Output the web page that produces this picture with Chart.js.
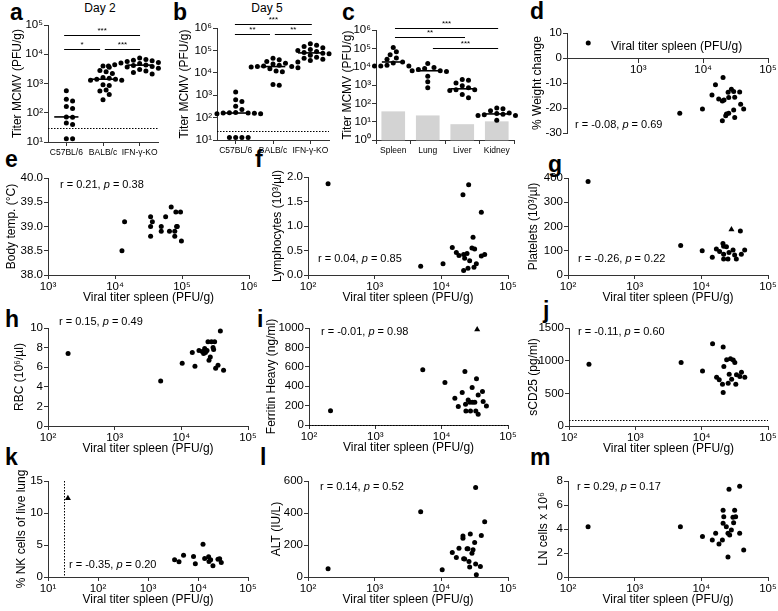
<!DOCTYPE html>
<html><head><meta charset="utf-8">
<script src="https://cdn.jsdelivr.net/npm/chart.js@4.4.1/dist/chart.umd.min.js"></script>
<style>
html,body{margin:0;padding:0;background:#fff;}
#wrap{position:relative;width:778px;height:611px;overflow:hidden;font-family:'Liberation Sans',Arial,Helvetica,sans-serif;color:#000;}
#wrap canvas{position:absolute;left:0;top:0;}
.L{position:absolute;font-weight:bold;font-size:23px;line-height:22px;}
.T{position:absolute;font-size:12px;line-height:14px;text-align:center;width:80px;}
</style></head>
<body><div id="wrap">
<div class="T" style="left:60px;top:1px">Day 2</div>
<div class="T" style="left:227px;top:1px">Day 5</div>
<div class="L" style="left:10px;top:1px">a</div>
<div class="L" style="left:173px;top:1px">b</div>
<div class="L" style="left:342px;top:1px">c</div>
<div class="L" style="left:530px;top:0px">d</div>
<div class="L" style="left:5px;top:148px">e</div>
<div class="L" style="left:255px;top:148px">f</div>
<div class="L" style="left:548px;top:153px">g</div>
<div class="L" style="left:5px;top:308px">h</div>
<div class="L" style="left:257px;top:308px">i</div>
<div class="L" style="left:543px;top:299px">j</div>
<div class="L" style="left:5px;top:446px">k</div>
<div class="L" style="left:260px;top:446px">l</div>
<div class="L" style="left:530px;top:446px">m</div>
</div>
<script>
// ---------- data ----------
const aCategories = ['C57BL/6', 'BALB/c', 'IFN-\u03b3-KO'];
const aC57  = [560, 290, 250, 165, 140, 72, 70, 45, 40, 13, 13];
const aBALB = [4000, 3600, 2800, 2500, 2200, 1600, 1500, 1400, 1400, 1300, 1300, 900, 850, 600, 550, 420, 280];
const aIFN  = [7500, 6600, 6200, 6000, 5700, 5200, 5000, 4800, 4600, 4400, 4300, 4200, 4100, 4000, 3800, 3700, 3500, 3300, 3000, 2700, 2400, 2100];
const aDetection = 30;

const bCategories = ['C57BL/6', 'BALB/c', 'IFN-\u03b3-KO'];
const bC57  = [1400, 620, 520, 320, 230, 170, 165, 160, 160, 155, 150, 150, 145, 13, 13, 13, 13];
const bBALB = [45000, 38000, 32000, 27000, 25000, 22000, 20000, 19000, 19000, 18000, 17000, 15000, 12000, 11000, 3000, 2800];
const bIFN  = [200000, 170000, 150000, 130000, 110000, 100000, 90000, 80000, 75000, 70000, 60000, 50000, 45000, 40000, 35000, 30000];
const bDetection = 24;

const cOrgans = ['Spleen', 'Lung', 'Liver', 'Kidney'];
const cSpleen = [110000, 65000, 45000, 30000, 25000, 18000, 16000, 12000, 11000, 11000, 11000];
const cLung   = [15000, 9000, 8000, 7000, 6000, 6000, 5500, 3000, 1500, 700];
const cLiver  = [2000, 1800, 1300, 900, 700, 550, 550, 500, 300, 200];
const cKidney = [55, 50, 40, 30, 28, 25, 24, 22, 22, 12];
const cDetection = [35, 21, 7, 10];

const dX = [170, 4370, 9770, 15500, 20300, 13700, 17400, 19800, 21000, 24300, 24800, 27300, 29600, 30700, 36600, 37900, 42200, 29600, 22900, 24800, 22300, 19800, 30700];
const dY = [6.0, -22.1, -20.4, -10.7, -7.8, -14.8, -16.4, -17.2, -16.8, -13.7, -15.8, -12.5, -13.4, -15.7, -13.6, -18.5, -20.4, -20.8, -22.4, -22.1, -23.1, -25.1, -23.8];

const eX = [12700, 13900, 34000, 34000, 34000, 36100, 49000, 49000, 57000, 69000, 65000, 78000, 78000, 81000, 83000, 85000, 95000, 98000];
const eY = [38.5, 39.1, 39.2, 39.0, 38.8, 39.1, 39.0, 38.9, 39.2, 39.4, 38.9, 38.9, 38.8, 39.3, 39.0, 39.0, 39.3, 38.7];

const fX = [200, 4900, 10600, 14600, 16800, 18400, 21100, 21600, 21600, 22400, 24300, 25100, 25700, 26600, 28800, 29900, 30900, 31600, 33500, 39800, 39800, 44700];
const fY = [1.86, 0.18, 0.23, 0.56, 0.46, 0.40, 1.64, 0.09, 0.42, 0.34, 0.44, 0.14, 1.84, 0.29, 0.55, 0.77, 0.16, 0.53, 0.23, 1.28, 0.39, 0.42];

const gX = [200, 4900, 10300, 14600, 16800, 18800, 21100, 21600, 21600, 23800, 21600, 25100, 26000, 29900, 31600, 33500, 38500, 39800, 44700];
const gY = [386, 122, 100, 73, 107, 97, 130, 119, 86, 116, 66, 66, 93, 103, 82, 66, 181, 86, 103];
const gTriX = [28300];
const gTriY = [188];

const hX = [200, 4900, 10300, 14600, 16000, 18400, 20600, 21600, 22400, 23000, 24300, 25100, 26000, 27200, 28300, 29900, 30500, 31600, 32700, 35500, 38500, 43000];
const hY = [7.4, 4.6, 6.4, 7.5, 6.1, 7.7, 7.6, 7.4, 7.9, 7.5, 7.7, 8.6, 6.7, 7.05, 8.6, 8.0, 7.8, 8.6, 5.9, 6.2, 9.7, 5.7];

const iX = [211, 5190, 11200, 15800, 17800, 20400, 22400, 22900, 23200, 25100, 26600, 27200, 28800, 29200, 31600, 32700, 33500, 35500, 35500, 41200, 42200, 47300];
const iY = [148, 569, 438, 276, 190, 334, 552, 214, 145, 259, 234, 145, 386, 234, 234, 145, 476, 310, 110, 345, 241, 197];
const iTriX = [34300];
const iTriY = [985];
const iDetection = 4;

const jX = [200, 4900, 10300, 14600, 16800, 18400, 21100, 21600, 21100, 20600, 23800, 25100, 26000, 27200, 28300, 29900, 31600, 32700, 33500, 37600, 39800, 44700];
const jY = [947, 973, 840, 1260, 748, 707, 1208, 911, 512, 640, 1014, 655, 794, 1030, 717, 1009, 973, 640, 783, 758, 824, 748];
const jDetection = 90;

const kX = [3400, 4170, 5140, 8130, 8840, 12600, 13600, 16300, 16600, 17900, 19900, 25100, 27100, 29200];
const kY = [2.69, 2.38, 3.41, 3.21, 2.07, 5.12, 2.90, 3.16, 2.43, 2.69, 1.76, 2.79, 2.85, 2.28];
const kTriX = [25];
const kTriY = [12.3];
const kDetection = 20.5;

const lX = [200, 4900, 10300, 14600, 16800, 18400, 21100, 21100, 21600, 22400, 24300, 25100, 26000, 26600, 27200, 28800, 29900, 31600, 32700, 32700, 33500, 38500, 39800, 44700];
const lY = [52, 408, 46, 153, 122, 180, 257, 242, 114, 112, 176, 176, 97, 62, 269, 149, 170, 215, 559, 81, 14, 66, 259, 346];

const mX = [200, 4850, 10400, 14600, 16400, 18400, 20700, 21200, 21200, 21700, 23700, 25100, 26000, 26600, 25100, 28200, 29800, 30500, 31600, 32700, 37600, 37600, 43200];
const mY = [4.19, 4.19, 3.37, 3.09, 3.64, 2.76, 3.09, 5.57, 4.47, 5.02, 4.19, 3.64, 7.31, 3.50, 1.66, 3.92, 4.97, 4.52, 5.57, 5.02, 3.64, 7.56, 2.26];

const rStats = {
  d: ['-0.08', '0.69'], e: ['0.21', '0.38'], f: ['0.04', '0.85'], g: ['-0.26', '0.22'],
  h: ['0.15', '0.49'], i: ['-0.01', '0.98'], j: ['-0.11', '0.60'], k: ['-0.35', '0.20'],
  l: ['0.14', '0.52'], m: ['0.29', '0.17']
};
const xTitle = 'Viral titer spleen (PFU/g)';

// ---------- helpers ----------
const FONT = "'Liberation Sans', Arial, Helvetica, sans-serif";
const AX = '#333';
const TXT = '#000';
const TICK = 11.5;
const SUP = {'0':'\u2070','1':'\u00B9','2':'\u00B2','3':'\u00B3','4':'\u2074','5':'\u2075','6':'\u2076','7':'\u2077','8':'\u2078','9':'\u2079'};
const expLabel = v => '10' + String(Math.round(Math.log10(v))).split('').map(c => SUP[c] || c).join('');
const wrap = document.getElementById('wrap');

function titleOpt(t) { return {display: true, text: t, color: TXT, font: {family: FONT, size: 12, lineHeight: 1.2}, padding: 0}; }
function baseAxis() {
  return {
    offset: false,
    border: {display: true, color: AX, width: 1},
    grid: {display: true, drawOnChartArea: false, drawTicks: true, tickLength: 4, tickColor: AX, tickWidth: 1},
    ticks: {color: TXT, font: {family: FONT, size: TICK}, padding: 1, maxRotation: 0, autoSkip: false}
  };
}
function logAxis(min, max, exps, title) {
  const a = baseAxis();
  a.type = 'logarithmic'; a.min = min; a.max = max;
  a.afterBuildTicks = s => { s.ticks = exps.map(e => ({value: Math.pow(10, e)})); };
  a.ticks.callback = v => expLabel(v);
  if (title) a.title = titleOpt(title);
  return a;
}
function linAxis(min, max, step, dec, title) {
  const a = baseAxis();
  a.type = 'linear'; a.min = min; a.max = max; a.ticks.stepSize = step;
  a.ticks.callback = v => Number(v).toFixed(dec);
  if (title) a.title = titleOpt(title);
  return a;
}
function catAxis(cats) {
  const a = baseAxis();
  a.type = 'linear'; a.min = -0.5; a.max = cats.length - 0.5;
  a.afterBuildTicks = s => { s.ticks = cats.map((c, i) => ({value: i})); };
  a.ticks.callback = v => cats[Math.round(v)];
  a.ticks.font = {family: FONT, size: 8.5};
  a.ticks.padding = 2;
  return a;
}
function median(arr) {
  const s = [...arr].sort((p, q) => p - q); const n = s.length;
  return n % 2 ? s[(n - 1) / 2] : Math.sqrt(s[n / 2 - 1] * s[n / 2]);
}
function swarm(vals, pxX, pxDec, diam) {
  const order = vals.map((v, i) => ({i, y: Math.log10(v) * pxDec})).sort((p, q) => q.y - p.y);
  const placed = []; const off = new Array(vals.length).fill(0);
  for (const p of order) {
    for (let k = 0; k < 60; k++) {
      const s = k === 0 ? 0 : (k % 2 ? 1 : -1) * Math.ceil(k / 2) * diam * 0.6;
      if (placed.every(q => (q.x - s) ** 2 + (q.y - p.y) ** 2 >= diam * diam)) {
        placed.push({x: s, y: p.y}); off[p.i] = s / pxX; break;
      }
    }
  }
  return off;
}
function ptsDS(xs, ys, tri) {
  return {data: xs.map((x, i) => ({x, y: ys[i]})), pointStyle: tri ? 'triangle' : 'circle',
    pointRadius: tri ? 3.5 : 2.5, backgroundColor: '#000', borderColor: '#000', borderWidth: 0, clip: false, order: 0};
}
function drawR(ctx, x, y, r, p) {
  ctx.textBaseline = 'middle'; ctx.textAlign = 'left'; ctx.fillStyle = TXT;
  ctx.font = `11px ${FONT}`; const s1 = `r = ${r}, `; ctx.fillText(s1, x, y); x += ctx.measureText(s1).width;
  ctx.font = `italic 11px ${FONT}`; ctx.fillText('p', x, y); x += ctx.measureText('p').width;
  ctx.font = `11px ${FONT}`; ctx.fillText(` = ${p}`, x, y);
}

const deco = {
  id: 'deco',
  afterDatasetsDraw(chart, args, o) {
    const ctx = chart.ctx, xs = chart.scales.x, ys = chart.scales.y, ca = chart.chartArea;
    ctx.save();
    ctx.strokeStyle = '#000'; ctx.fillStyle = '#000';
    ctx.lineWidth = 1; ctx.setLineDash([1.5, 1.5]);
    (o.dottedY || []).forEach(v => { const y = Math.round(ys.getPixelForValue(v)) + 0.5; ctx.beginPath(); ctx.moveTo(ca.left, y); ctx.lineTo(ca.right, y); ctx.stroke(); });
    (o.dottedX || []).forEach(v => { const x = Math.round(xs.getPixelForValue(v)) + 0.5; ctx.beginPath(); ctx.moveTo(x, ca.top); ctx.lineTo(x, ca.bottom); ctx.stroke(); });
    ctx.setLineDash([]);
    if (o.medians) {
      ctx.lineWidth = 1.6;
      o.medians.forEach((m, i) => { const y = ys.getPixelForValue(m); ctx.beginPath(); ctx.moveTo(xs.getPixelForValue(i - o.mw), y); ctx.lineTo(xs.getPixelForValue(i + o.mw), y); ctx.stroke(); });
    }
    (o.sig || []).forEach(s => {
      const y = Math.round(ys.getPixelForValue(s.y)) + 0.5, x1 = xs.getPixelForValue(s.a), x2 = xs.getPixelForValue(s.b);
      ctx.lineWidth = 1; ctx.beginPath(); ctx.moveTo(x1, y); ctx.lineTo(x2, y); ctx.stroke();
      ctx.font = `8px ${FONT}`; ctx.textAlign = 'center'; ctx.textBaseline = 'bottom'; ctx.fillText(s.t, (x1 + x2) / 2, y - 1);
    });
    if (o.r) drawR(ctx, ca.left + o.r.dx, ca.top + o.r.dy, o.r.r, o.r.p);
    if (o.xt) {
      ctx.font = `12px ${FONT}`; ctx.textAlign = 'center'; ctx.textBaseline = 'middle'; ctx.fillStyle = TXT;
      ctx.fillText(o.xt.text, ca.left + o.xt.fx * (ca.right - ca.left), ys.getPixelForValue(0) + o.xt.dy);
    }
    ctx.restore();
  }
};
Chart.register(deco);

function mk(box, datasets, scales, decoOpts) {
  const cv = document.createElement('canvas'); cv.width = 778; cv.height = 611; wrap.appendChild(cv);
  scales.y.afterFit = s => { s.width = box.yw; s.paddingTop = 0; s.paddingBottom = 0; s.paddingLeft = 0; s.paddingRight = 0; };
  scales.x.afterFit = s => { s.height = box.xh; s.paddingLeft = 0; s.paddingRight = 0; s.paddingTop = 0; s.paddingBottom = 0; };
  return new Chart(cv, {type: 'scatter', data: {datasets}, options: {
    responsive: false, animation: false, devicePixelRatio: 1, events: [],
    layout: {padding: {left: box.L - box.yw, top: box.T, right: 778 - box.R, bottom: 611 - box.B - (box.zero ? 0 : box.xh)}},
    plugins: {legend: {display: false}, tooltip: {enabled: false}, deco: decoOpts || {}},
    scales
  }});
}

function dotPanel(box, groups, cats, minE, maxE, ytitle, decoOpts, extra) {
  const pxX = (box.R - box.L) / groups.length, pxDec = (box.B - box.T) / (maxE - minE);
  const pts = [];
  groups.forEach((vals, gi) => { const off = swarm(vals, pxX, pxDec, 5.2); vals.forEach((v, j) => pts.push({x: gi + off[j], y: v})); });
  const ds = [{data: pts, pointRadius: 2.5, backgroundColor: '#000', borderWidth: 0, clip: false, order: 0}].concat(extra || []);
  decoOpts.medians = groups.map(median); decoOpts.mw = 0.33;
  mk(box, ds, {x: catAxis(cats), y: logAxis(Math.pow(10, minE), Math.pow(10, maxE), Array.from({length: maxE - minE + 1}, (_, i) => minE + i), ytitle)}, decoOpts);
}

// ---------- panels a, b, c ----------
dotPanel({L: 48, T: 25, R: 158, B: 142, yw: 37.2, xh: 20}, [aC57, aBALB, aIFN], aCategories, 1, 5, 'Titer MCMV (PFU/g)', {
  dottedY: [aDetection],
  sig: [{a: -0.06, b: 2.01, y: Math.pow(10, 4.66), t: '***'}, {a: -0.06, b: 0.92, y: Math.pow(10, 4.17), t: '*'}, {a: 1.05, b: 2.01, y: Math.pow(10, 4.17), t: '***'}]
});
dotPanel({L: 217, T: 28, R: 329, B: 140, yw: 39.2, xh: 20}, [bC57, bBALB, bIFN], bCategories, 1, 6, 'Titer MCMV (PFU/g)', {
  dottedY: [bDetection],
  sig: [{a: -0.02, b: 2.04, y: Math.pow(10, 6.19), t: '***'}, {a: -0.02, b: 0.92, y: Math.pow(10, 5.73), t: '**'}, {a: 1.05, b: 2.04, y: Math.pow(10, 5.73), t: '**'}]
});
dotPanel({L: 376, T: 30, R: 514, B: 140, yw: 35.2, xh: 20}, [cSpleen, cLung, cLiver, cKidney], cOrgans, 0, 6, 'Titer MCMV (PFU/g)', {
  sig: [{a: 0.05, b: 3.04, y: Math.pow(10, 6.09), t: '***'}, {a: 0.05, b: 2.08, y: Math.pow(10, 5.6), t: '**'}, {a: 1.15, b: 3.04, y: Math.pow(10, 5.04), t: '***'}]
}, [{type: 'bar', data: cDetection.map((v, i) => ({x: i, y: v})), backgroundColor: '#d3d3d3', barThickness: 23, order: 5, clip: false}]);

// ---------- scatter panels ----------
function scat(box, xAxis, yAxis, xs, ys, triX, triY, key, extraDeco) {
  const ds = [ptsDS(xs, ys, false)];
  if (triX) ds.push(ptsDS(triX, triY, true));
  const o = Object.assign({r: {dx: box.rdx, dy: box.rdy, r: rStats[key][0], p: rStats[key][1]}}, extraDeco || {});
  mk(box, ds, {x: xAxis, y: yAxis}, o);
}

const dx = logAxis(80, 1e5, [3, 4, 5], null); dx.position = {y: 0};
scat({L: 567, T: 33, R: 768, B: 133, yw: 36.2, xh: 20, zero: true, rdx: 8, rdy: 92}, dx, linAxis(-30, 10, 10, 0, '% Weight change'), dX, dY, null, null, 'd',
  {xt: {text: xTitle, fx: 0.545, dy: -11}});
scat({L: 48, T: 178, R: 249, B: 275, yw: 43.2, xh: 30.2, rdx: 12, rdy: 7}, logAxis(1e3, 1e6, [3, 4, 5, 6], xTitle), linAxis(38, 40, 0.5, 1, 'Body temp. (\u00B0C)'), eX, eY, null, null, 'e');
scat({L: 308, T: 177, R: 508, B: 275, yw: 37.2, xh: 30.2, rdx: 10, rdy: 82}, logAxis(1e2, 1e5, [2, 3, 4, 5], xTitle), linAxis(0, 2, 0.5, 1, 'Lymphocytes (10\u00B3/\u00B5l)'), fX, fY, null, null, 'f');
scat({L: 568, T: 178, R: 768, B: 275, yw: 41.2, xh: 30.2, rdx: 10, rdy: 81}, logAxis(1e2, 1e5, [2, 3, 4, 5], xTitle), linAxis(0, 400, 100, 0, 'Platelets (10\u00B3/\u00B5l)'), gX, gY, gTriX, gTriY, 'g');
scat({L: 48, T: 328, R: 248, B: 426, yw: 35.2, xh: 30.2, rdx: 11, rdy: -6}, logAxis(1e2, 1e5, [2, 3, 4, 5], xTitle), linAxis(0, 10, 2, 0, 'RBC (10\u2076/\u00B5l)'), hX, hY, null, null, 'h');
scat({L: 309, T: 328, R: 508, B: 425, yw: 44.2, xh: 30.2, rdx: 12, rdy: 4}, logAxis(1e2, 1e5, [2, 3, 4, 5], xTitle), linAxis(0, 1000, 200, 0, 'Ferritin Heavy (ng/ml)'), iX, iY, iTriX, iTriY, 'i', {dottedY: [iDetection]});
scat({L: 569, T: 328, R: 768, B: 426, yw: 42.2, xh: 30.2, rdx: 9, rdy: 4}, logAxis(1e2, 1e5, [2, 3, 4, 5], xTitle), linAxis(0, 1500, 500, 0, 'sCD25 (pg/ml)'), jX, jY, null, null, 'j', {dottedY: [jDetection]});
scat({L: 48, T: 481, R: 248, B: 577, yw: 33.2, xh: 30.2, rdx: 21, rdy: 84}, logAxis(1e1, 1e5, [1, 2, 3, 4, 5], xTitle), linAxis(0, 15, 5, 0, '% NK cells of live lung'), kX, kY, kTriX, kTriY, 'k', {dottedX: [kDetection]});
scat({L: 308, T: 481, R: 508, B: 577, yw: 38.2, xh: 30.2, rdx: 12, rdy: 6}, logAxis(1e2, 1e5, [2, 3, 4, 5], xTitle), linAxis(0, 600, 200, 0, 'ALT (IU/L)'), lX, lY, null, null, 'l');
scat({L: 568, T: 481, R: 768, B: 577, yw: 31.2, xh: 30.2, rdx: 9, rdy: 6}, logAxis(1e2, 1e5, [2, 3, 4, 5], xTitle), linAxis(0, 8, 2, 0, 'LN cells x 10\u2076'), mX, mY, null, null, 'm');
</script>
</body></html>
